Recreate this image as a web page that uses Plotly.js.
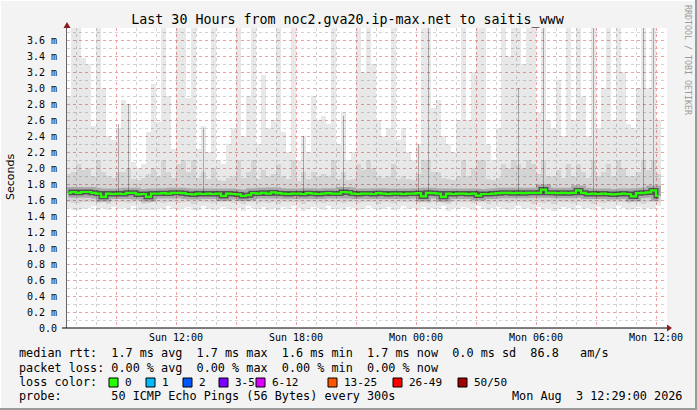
<!DOCTYPE html>
<html>
<head>
<meta charset="utf-8">
<script src="https://cdn.plot.ly/plotly-3.0.1.min.js"></script>
<style>html,body{margin:0;padding:0;background:#f3f3f3;}#chart{width:697px;height:410px;}</style>
</head>
<body>
<div id="chart"></div>
<script>
// ---- data (15-minute bins starting Sun 2026-08-02 06:30) ----
const binStartISO = '2026-08-02T06:30:00Z';
const binMinutes = 15;

// top of smoke (max of the 50 pings), ms
const maxV = [
 2.9,3.8,3.8,3.37,3.3,2.53,3.8,3.0,2.4,2.35,
 2.5,2.85,2.8,2.08,2.0,2.05,2.45,3.05,2.57,3.8,
 2.9,2.24,3.8,3.8,2.87,3.8,2.24,2.53,2.2,3.8,
 2.1,2.05,2.3,2.5,3.8,2.4,2.9,3.8,2.3,3.16,
 2.5,2.6,3.8,2.45,2.2,3.8,2.1,2.4,2.2,2.9,
 2.6,2.65,2.55,3.8,2.3,2.7,2.1,2.2,3.8,3.2,
 3.8,3.3,2.6,2.4,2.5,3.8,2.35,2.5,2.2,2.1,
 2.3,3.8,3.8,2.75,2.85,2.4,2.3,2.2,2.6,3.8,
 2.6,3.2,3.8,3.8,2.3,2.1,2.5,3.8,3.4,3.8,
 3.8,3.3,3.8,3.8,2.7,3.8,2.6,2.5,3.1,2.4,
 3.8,2.6,3.8,2.9,2.4,3.8,2.5,3.0,3.8,2.6,
 3.8,3.2,2.55,2.5,3.0,3.8,3.0,3.8,2.6
];
// bottom of smoke (min), ms
const minV = [
 1.50,1.48,1.47,1.49,1.50,1.52,1.48,1.50,1.47,1.51,
 1.49,1.50,1.48,1.52,1.48,1.47,1.48,1.48,1.50,1.48,
 1.52,1.49,1.47,1.50,1.51,1.48,1.48,1.52,1.49,1.47,
 1.50,1.51,1.49,1.48,1.50,1.46,1.52,1.50,1.49,1.51,
 1.48,1.50,1.47,1.51,1.49,1.52,1.50,1.46,1.49,1.51,
 1.50,1.48,1.52,1.49,1.50,1.47,1.51,1.50,1.48,1.49,
 1.52,1.50,1.47,1.49,1.51,1.48,1.50,1.52,1.49,1.50,
 1.47,1.51,1.48,1.50,1.49,1.52,1.46,1.50,1.49,1.51,
 1.50,1.48,1.52,1.49,1.47,1.50,1.51,1.49,1.48,1.50,
 1.52,1.49,1.50,1.47,1.51,1.48,1.50,1.46,1.49,1.51,
 1.50,1.48,1.52,1.49,1.50,1.47,1.51,1.48,1.50,1.49,
 1.52,1.50,1.48,1.49,1.51,1.47,1.50,1.49,1.52
];
// upper / lower edge of the denser (middle) smoke, ms
const hiMid = [
 1.92,1.95,2.05,1.98,2.0,1.9,2.1,1.95,1.9,1.88,
 1.95,1.95,2.0,1.86,1.85,1.88,1.92,2.0,1.9,2.1,
 1.95,1.88,2.05,2.1,1.95,2.1,1.88,1.95,1.86,2.0,
 1.85,1.84,1.88,1.9,2.1,1.88,1.95,2.1,1.86,1.98,
 1.9,1.92,2.05,1.9,1.86,2.1,1.84,1.95,1.86,1.95,
 1.9,1.92,1.9,2.1,1.86,1.95,1.85,1.86,2.05,1.98,
 2.1,2.0,1.9,1.88,1.9,2.05,1.86,1.9,1.86,1.85,
 1.92,2.1,2.1,1.95,1.95,1.88,1.86,1.85,1.9,2.1,
 1.9,2.0,2.1,2.1,1.86,1.85,1.88,2.05,2.0,2.1,
 2.05,2.0,2.1,2.05,1.92,2.1,1.9,1.9,1.98,1.88,
 2.05,1.9,2.05,1.95,1.88,2.1,1.9,1.95,2.05,1.9,
 2.1,2.0,1.9,1.9,1.95,2.1,1.98,2.1,1.92
];
const loMid = [
 1.57,1.56,1.56,1.58,1.57,1.58,1.56,1.57,1.55,1.58,
 1.57,1.58,1.56,1.58,1.57,1.55,1.56,1.58,1.57,1.56,
 1.58,1.57,1.56,1.57,1.58,1.55,1.57,1.58,1.57,1.56,
 1.57,1.58,1.57,1.56,1.57,1.55,1.58,1.57,1.56,1.58,
 1.56,1.57,1.55,1.58,1.57,1.58,1.57,1.55,1.57,1.58,
 1.57,1.56,1.58,1.57,1.57,1.56,1.58,1.57,1.56,1.57,
 1.58,1.57,1.55,1.57,1.58,1.56,1.57,1.58,1.57,1.57,
 1.56,1.57,1.56,1.57,1.57,1.56,1.55,1.57,1.57,1.58,
 1.57,1.56,1.58,1.57,1.55,1.57,1.58,1.57,1.56,1.57,
 1.58,1.57,1.57,1.55,1.58,1.56,1.57,1.55,1.57,1.58,
 1.57,1.56,1.58,1.57,1.57,1.55,1.58,1.56,1.57,1.57,
 1.58,1.57,1.56,1.57,1.58,1.55,1.57,1.57,1.58
];
// narrow dark spikes (several pings high in one step), ms; null = none
const spikeTop = [
 null,null,null,null,null,null,null,null,null,null,
 2.55,null,2.8,null,null,null,null,null,null,null,
 null,null,null,null,null,null,null,2.5,null,null,
 null,null,null,null,null,null,null,null,null,null,
 null,null,null,null,null,null,null,2.4,null,null,
 null,null,null,null,null,2.65,null,null,null,null,
 null,null,null,null,null,null,null,null,null,null,
 2.3,null,3.8,null,null,null,null,null,null,null,
 null,null,null,null,null,null,null,null,null,null,
 3.0,null,null,null,null,3.8,null,null,null,null,
 null,null,null,null,null,3.8,null,null,null,null,
 null,null,null,null,null,3.8,null,3.8,null
];
// median rtt, ms
const median = [
 1.69,1.70,1.69,1.70,1.70,1.69,1.68,1.64,1.68,1.675,
 1.68,1.675,1.69,1.69,1.67,1.675,1.64,1.68,1.68,1.685,
 1.68,1.69,1.69,1.685,1.675,1.67,1.68,1.675,1.68,1.675,
 1.68,1.65,1.68,1.675,1.67,1.65,1.66,1.685,1.68,1.69,
 1.68,1.695,1.685,1.68,1.675,1.68,1.68,1.675,1.685,1.68,
 1.675,1.68,1.685,1.68,1.68,1.70,1.695,1.68,1.675,1.68,
 1.68,1.675,1.685,1.68,1.675,1.68,1.68,1.675,1.68,1.68,
 1.685,1.645,1.69,1.685,1.68,1.64,1.68,1.675,1.68,1.68,
 1.675,1.68,1.655,1.675,1.675,1.68,1.685,1.69,1.69,1.685,
 1.69,1.685,1.69,1.69,1.69,1.73,1.69,1.69,1.685,1.69,
 1.685,1.69,1.72,1.69,1.675,1.68,1.675,1.68,1.675,1.67,
 1.675,1.68,1.675,1.645,1.685,1.69,1.695,1.72,1.65
];

const yTickValues = [0,0.2,0.4,0.6,0.8,1.0,1.2,1.4,1.6,1.8,2.0,2.2,2.4,2.6,2.8,3.0,3.2,3.4,3.6];
const yTickLabels = ['0.0','0.2 m','0.4 m','0.6 m','0.8 m','1.0 m','1.2 m','1.4 m','1.6 m','1.8 m','2.0 m','2.2 m','2.4 m','2.6 m','2.8 m','3.0 m','3.2 m','3.4 m','3.6 m'];
const xTickTimes = ['2026-08-02 09:00','2026-08-02 12:00','2026-08-02 15:00','2026-08-02 18:00','2026-08-02 21:00','2026-08-03 00:00','2026-08-03 03:00','2026-08-03 06:00','2026-08-03 09:00','2026-08-03 12:00'];
const xTickLabels = ['','Sun 12:00','','Sun 18:00','','Mon 00:00','','Mon 06:00','','Mon 12:00'];

const lossLabels = ['0','1','2','3-5','6-12','13-25','26-49','50/50'];
const lossColors = ['#26ff00','#00b8ff','#0059ff','#7e00ff','#dd00ff','#ff5500','#ff0000','#a10000'];

const titleText = 'Last 30 Hours from noc2.gva20.ip-max.net to saitis_www';
const legendLines = [
 'median rtt:  1.7 ms avg  1.7 ms max  1.6 ms min  1.7 ms now  0.0 ms sd  86.8   am/s',
 'packet loss: 0.00 % avg  0.00 % max  0.00 % min  0.00 % now',
 'loss color:',
 'probe:       50 ICMP Echo Pings (56 Bytes) every 300s'
];
const stampText = 'Mon Aug  3 12:29:00 2026';
const sideText = 'RRDTOOL / TOBI OETIKER';

// ---- build ----
const t0 = Date.parse(binStartISO);
const stepMs = binMinutes * 60000;
const xs = median.map((_, i) => t0 + i * stepMs + stepMs / 2);

const L = 67, T = 28, W = 600, H = 300;
const px = v => (v - L) / W;
const py = v => (T + H - v) / H;
const nb = s => s.replace(/ /g, '\u00a0');
const mono = 'DejaVu Sans Mono, monospace';
const legFont = {family:mono, size:11.8, color:'#000'};
const lossFont = {family:mono, size:11, color:'#000'};

const traces = [
 {type:'bar', x:xs, base:minV, y:maxV.map((v,i)=>v-minV[i]), width:stepMs,
  marker:{color:'rgba(0,0,0,0.09)', line:{width:0}}, hoverinfo:'skip'},
 {type:'bar', x:xs, base:loMid, y:hiMid.map((v,i)=>v-loMid[i]), width:stepMs,
  marker:{color:'rgba(0,0,0,0.085)', line:{width:0}}, hoverinfo:'skip'},
 {type:'bar', x:xs, base:median, y:spikeTop.map((v,i)=>v===null?null:v-median[i]), width:stepMs/3,
  marker:{color:'rgba(0,0,0,0.28)', line:{width:0}}, hoverinfo:'skip'},
 {type:'scatter', mode:'lines', x:xs, y:median, line:{shape:'hvh', color:'rgba(0,0,0,0.2)', width:10}, hoverinfo:'skip'},
 {type:'scatter', mode:'lines', x:xs, y:median, line:{shape:'hvh', color:'rgba(0,0,0,0.5)', width:5}, hoverinfo:'skip'},
 {type:'scatter', mode:'lines', x:xs, y:median, line:{shape:'hvh', color:lossColors[0], width:2.2}, hoverinfo:'skip'}
];

const annotations = [];
const legendY = [353, 368, 382, 396];
legendLines.forEach((s, i) => annotations.push({
  xref:'paper', yref:'paper', x:px(17), y:py(legendY[i]), xanchor:'left', yanchor:'middle',
  text:nb(s), showarrow:false, font:legFont
}));
annotations.push({xref:'paper', yref:'paper', x:px(684), y:py(legendY[3]), xanchor:'right', yanchor:'middle',
  text:nb(stampText), showarrow:false, font:legFont});
const boxX = [109,146,183,219,256,328,393,458];
const shapes = [];
lossLabels.forEach((lab, i) => {
  annotations.push({xref:'paper', yref:'paper', x:px(boxX[i]+13.5), y:py(legendY[2]), xanchor:'left', yanchor:'middle',
    text:nb(lab), showarrow:false, font:lossFont});
  shapes.push({type:'rect', xref:'paper', yref:'paper', x0:px(boxX[i]), x1:px(boxX[i]+9),
    y0:py(legendY[2]+5), y1:py(legendY[2]-4), fillcolor:lossColors[i], line:{color:'#000', width:1}});
});
annotations.push({xref:'paper', yref:'paper', x:px(10), y:py(177), xanchor:'center', yanchor:'middle',
  text:'Seconds', textangle:-90, showarrow:false, font:{family:'DejaVu Sans, sans-serif', size:11, color:'#000'}});
annotations.push({xref:'paper', yref:'paper', x:px(688), y:py(60), xanchor:'center', yanchor:'middle',
  text:nb(sideText), textangle:90, showarrow:false, font:{family:mono, size:8.3, color:'#9a9a9a'}});

// axis arrows and frame bevel
shapes.push({type:'path', xref:'paper', yref:'paper',
  path:`M ${px(667)} ${py(324.5)} L ${px(672)} ${py(328)} L ${px(667)} ${py(331.5)} Z`,
  fillcolor:'#8b1a1a', line:{width:0}});
shapes.push({type:'path', xref:'paper', yref:'paper',
  path:`M ${px(63.5)} ${py(28)} L ${px(67)} ${py(22)} L ${px(70.5)} ${py(28)} Z`,
  fillcolor:'#8b1a1a', line:{width:0}});
shapes.push({type:'line', xref:'paper', yref:'paper', x0:px(62), x1:px(667), y0:py(328), y1:py(328), line:{color:'#000', width:1}});
shapes.push({type:'line', xref:'paper', yref:'paper', x0:px(0.5), x1:px(696.5), y0:py(0.5), y1:py(0.5), line:{color:'#ffffff', width:1}});
shapes.push({type:'line', xref:'paper', yref:'paper', x0:px(0.5), x1:px(0.5), y0:py(0.5), y1:py(409.5), line:{color:'#ffffff', width:1}});
shapes.push({type:'line', xref:'paper', yref:'paper', x0:px(0), x1:px(697), y0:py(409), y1:py(409), line:{color:'#9a9a9a', width:2}});
shapes.push({type:'line', xref:'paper', yref:'paper', x0:px(696), x1:px(696), y0:py(0), y1:py(410), line:{color:'#9a9a9a', width:2}});

const layout = {
  width:697, height:410,
  margin:{l:L, r:697-L-W, t:T, b:410-T-H, pad:0},
  paper_bgcolor:'#f3f3f3', plot_bgcolor:'#ffffff',
  showlegend:false, barmode:'overlay', bargap:0,
  title:{text:titleText, x:347.5/697, xanchor:'center', y:1-19/410, yanchor:'middle',
    font:{family:mono, size:13.3, color:'#000'}},
  xaxis:{type:'date', range:['2026-08-02 06:33','2026-08-03 12:33'],
    tickmode:'array', tickvals:xTickTimes, ticktext:xTickLabels,
    showgrid:true, gridcolor:'#f0a0a0', griddash:'dot', gridwidth:1,
    minor:{dtick:3600000, tick0:'2026-08-02 00:00', showgrid:true, gridcolor:'#d2d2d2', griddash:'dot', gridwidth:1, ticks:''},
    ticks:'', showline:false, zeroline:false,
    tickfont:{family:mono, size:10, color:'#000'}, ticklabelstandoff:2, fixedrange:true},
  yaxis:{range:[0,3.75], tickmode:'array', tickvals:yTickValues, ticktext:yTickLabels,
    showgrid:true, gridcolor:'#f0a0a0', griddash:'dot', gridwidth:1,
    minor:{dtick:0.1, tick0:0, showgrid:true, gridcolor:'#d2d2d2', griddash:'dot', gridwidth:1, ticks:''},
    ticks:'', showline:true, linecolor:'#666', linewidth:1, zeroline:false,
    tickfont:{family:mono, size:10, color:'#000'}, ticklabelstandoff:7, fixedrange:true},
  annotations:annotations, shapes:shapes
};

Plotly.newPlot('chart', traces, layout, {staticPlot:true, displayModeBar:false});
</script>
</body>
</html>
